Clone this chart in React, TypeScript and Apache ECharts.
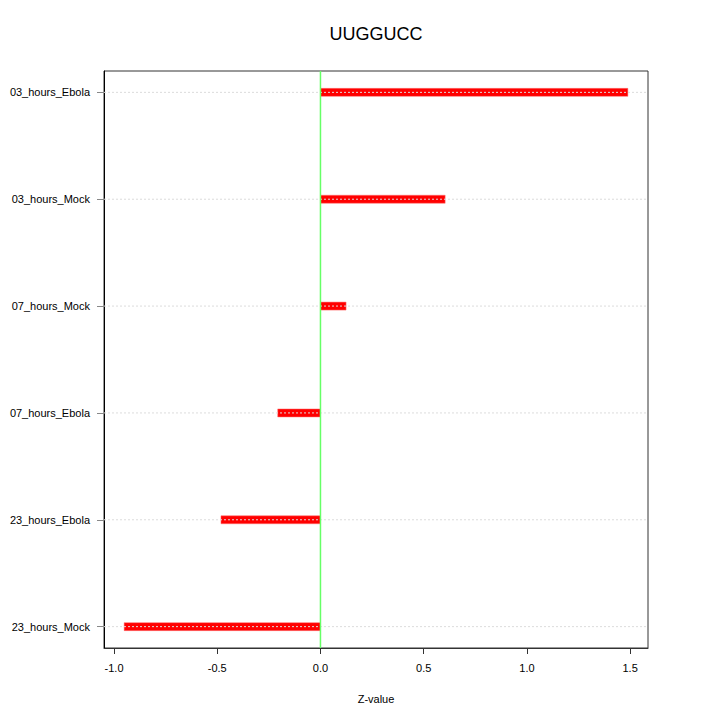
import React, { useEffect, useRef } from "react";
import * as echarts from "echarts";

const categories = ["23_hours_Mock", "23_hours_Ebola", "07_hours_Ebola", "07_hours_Mock", "03_hours_Mock", "03_hours_Ebola"];
const zValues = [-0.951, -0.482, -0.207, 0.124, 0.604, 1.489];
const xTicks = [-1.0, -0.5, 0.0, 0.5, 1.0, 1.5];
const titleText = "UUGGUCC";
const xTitle = "Z-value";

export default function App() {
  const ref = useRef<HTMLDivElement>(null);
  useEffect(() => {
    if (!ref.current) return;
    const chart = echarts.init(ref.current, null, { renderer: "svg" });
    const dMin = Math.min(...zValues);
    const dMax = Math.max(...zValues);
    const ext = (dMax - dMin) * 0.04;
    const xMin = dMin - ext;
    const xMax = dMax + ext;
    const yIdx = categories.map((_, i) => i + 1);
    const font = "Liberation Sans, Arial, Helvetica, sans-serif";
    chart.setOption({
      animation: false,
      backgroundColor: "#ffffff",
      graphic: [
        {
          type: "text",
          x: 376,
          y: 34,
          style: {
            text: titleText,
            fontFamily: font,
            fontSize: 18,
            fill: "#000",
            align: "center",
            verticalAlign: "middle",
          },
        },
      ],
      grid: { left: 104, right: 72, top: 71, bottom: 72, show: true, borderColor: "#333", borderWidth: 1, backgroundColor: "transparent" },
      xAxis: {
        type: "value",
        min: xMin,
        max: xMax,
        name: xTitle,
        nameLocation: "middle",
        nameGap: 45,
        nameTextStyle: { fontFamily: font, fontSize: 11, color: "#000" },
        axisLine: { show: true, onZero: false, lineStyle: { color: "#333", width: 1 } },
        axisTick: { show: true, length: 6, lineStyle: { color: "#333" }, customValues: xTicks },
        axisLabel: {
          fontFamily: font,
          fontSize: 11,
          color: "#000",
          margin: 14,
          customValues: xTicks,
          formatter: (v: number) => v.toFixed(1),
        },
        splitLine: { show: false },
      },
      yAxis: {
        type: "value",
        min: 0.8,
        max: 6.2,
        axisLine: { show: true, onZero: false, lineStyle: { color: "#000", width: 1 } },
        axisTick: { show: true, length: 7, lineStyle: { color: "#888" }, customValues: yIdx },
        axisLabel: {
          fontFamily: font,
          fontSize: 11,
          color: "#000",
          margin: 14,
          customValues: yIdx,
          formatter: (v: number) => categories[Math.round(v) - 1] ?? "",
        },
        splitLine: { show: false },
      },
      series: [
        {
          type: "custom",
          z: 2,
          data: zValues.map((v, i) => [v, i + 1]),
          renderItem: (params: any, api: any) => {
            const v = api.value(0);
            const y = api.value(1);
            const p0 = api.coord([0, y]);
            const p1 = api.coord([v, y]);
            const h = 8;
            return {
              type: "rect",
              shape: { x: Math.min(p0[0], p1[0]), y: p0[1] - h / 2, width: Math.abs(p1[0] - p0[0]), height: h },
              style: { fill: "#ff0000", stroke: "#ff7070", lineWidth: 0.5 },
            };
          },
        },
        {
          type: "custom",
          z: 3,
          silent: true,
          data: yIdx.map((y) => [y]),
          renderItem: (params: any, api: any) => {
            const y = api.value(0);
            const a = api.coord([xMin, y]);
            const b = api.coord([xMax, y]);
            return {
              type: "line",
              shape: { x1: a[0], y1: a[1], x2: b[0], y2: b[1] },
              style: { stroke: "#dcdcdc", lineWidth: 1, lineDash: [2, 2] },
            };
          },
        },
        {
          type: "custom",
          z: 4,
          silent: true,
          data: [[0]],
          renderItem: (params: any, api: any) => {
            const a = api.coord([0, 0.8]);
            const b = api.coord([0, 6.2]);
            return {
              type: "line",
              shape: { x1: a[0], y1: a[1], x2: b[0], y2: b[1] },
              style: { stroke: "#66ff66", lineWidth: 1.5 },
            };
          },
        },
      ],
    });
    return () => chart.dispose();
  }, []);
  return <div ref={ref} style={{ width: 720, height: 720, position: "absolute", left: 0, top: 0 }} />;
}
